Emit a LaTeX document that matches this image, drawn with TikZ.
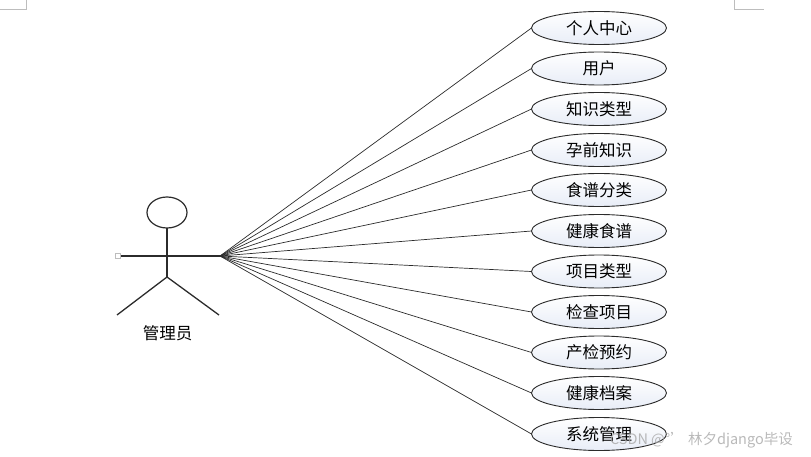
\documentclass[tikz,border=0pt]{standalone}
\usepackage{fontspec}
\usepackage{xcolor}
\setmainfont{Noto Sans CJK SC}
\usetikzlibrary{shapes.geometric}
\definecolor{case-line}{HTML}{2B2B2B}
\definecolor{case-fill}{HTML}{E8EDF7}
\definecolor{mark-gray}{HTML}{BDBDBD}
\definecolor{stamp-gray}{HTML}{A8A8A8}

\begin{document}
\begin{tikzpicture}[x=1pt, y=1pt,
      every node/.style={font=\fontsize{16.5}{19}\selectfont},
      usecase/.style={ellipse, draw=case-line, line width=0.9pt, top color=white,
          bottom color=case-fill, minimum width=135pt, minimum height=33pt,
          inner sep=0pt, outer sep=0pt},
      limb/.style={draw=case-line, line width=1.3pt},
      wire/.style={draw=case-line, line width=0.7pt}]
    \useasboundingbox (0,0) rectangle (811,456);
    % page corners
    \draw[mark-gray, line width=0.8pt] (0,447) -- (26,447) -- (26,456);
    \draw[mark-gray, line width=0.8pt] (734,456) -- (734,447) -- (764,447);
    % actor
    \node[ellipse, draw=case-line, line width=1.2pt, minimum width=40pt,
          minimum height=31pt, inner sep=0pt, outer sep=0pt] (head) at (167,243.5) {};
    \coordinate (neck) at (167,200);
    \coordinate (hip) at (167,179);
    \coordinate (lefthand) at (118,200);
    \coordinate (hand) at (220,200);
    \coordinate (leftfoot) at (117,141);
    \coordinate (rightfoot) at (219,141);
    \draw[limb] (head.south) -- (hip);
    \draw[limb] (lefthand) -- (hand);
    \draw[limb] (leftfoot) -- (hip) -- (rightfoot);
    \node[draw=mark-gray, fill=white, line width=0.8pt, minimum size=5pt,
          inner sep=0pt] (grip) at (117.5,200) {};
    \node (actor) at (167.5,122.5) {管理员};
    % use cases
    \node[usecase] (C1) at (599,428) {个人中心};
    \node[usecase] (C2) at (599,387.5) {用户};
    \node[usecase] (C3) at (599,347) {知识类型};
    \node[usecase] (C4) at (599,306) {孕前知识};
    \node[usecase] (C5) at (599,266) {食谱分类};
    \node[usecase] (C6) at (599,225) {健康食谱};
    \node[usecase] (C7) at (599,184.5) {项目类型};
    \node[usecase] (C8) at (599,144) {检查项目};
    \node[usecase] (C9) at (599,103.5) {产检预约};
    \node[usecase] (C10) at (599,63) {健康档案};
    \node[usecase] (C11) at (599,22) {系统管理};
    % links
    \draw[wire] (hand) -- (C1.west);
    \draw[wire] (hand) -- (C2.west);
    \draw[wire] (hand) -- (C3.west);
    \draw[wire] (hand) -- (C4.west);
    \draw[wire] (hand) -- (C5.west);
    \draw[wire] (hand) -- (C6.west);
    \draw[wire] (hand) -- (C7.west);
    \draw[wire] (hand) -- (C8.west);
    \draw[wire] (hand) -- (C9.west);
    \draw[wire] (hand) -- (C10.west);
    \draw[wire] (hand) -- (C11.west);
    \node[stamp-gray, opacity=0.8, anchor=east, inner sep=0pt,
          font=\fontsize{14.5}{17}\selectfont] (stamp) at (793,16) {CSDN @°'\ 林夕django毕设};
  \end{tikzpicture}
\end{document}
